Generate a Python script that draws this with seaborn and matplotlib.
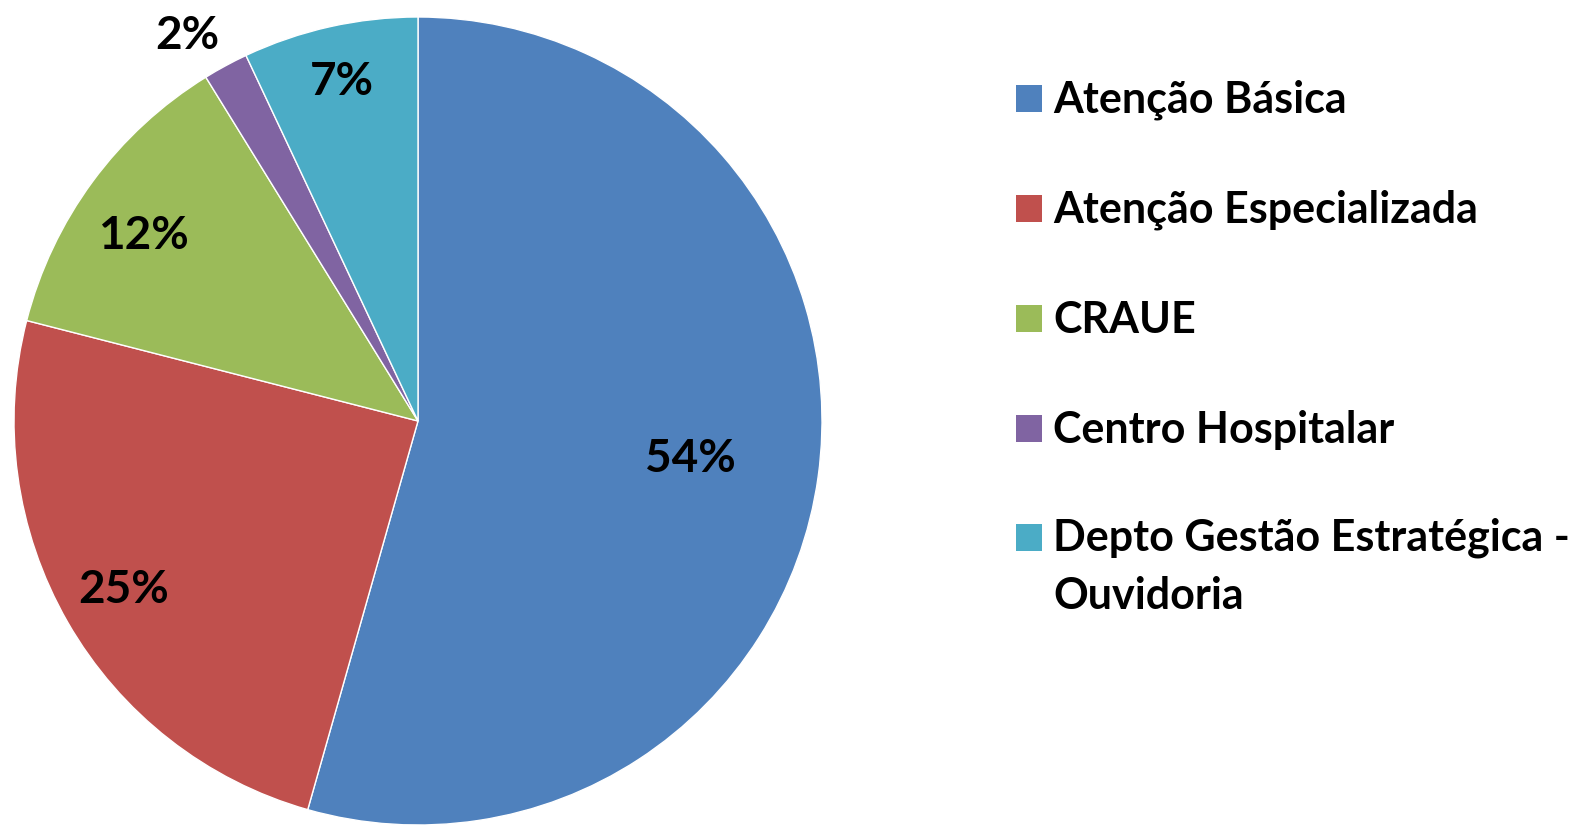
import matplotlib
matplotlib.use("Agg")
import matplotlib.pyplot as plt
import seaborn as sns
import numpy as np
from matplotlib.patches import Rectangle

categories = ["Atenção Básica", "Atenção Especializada", "CRAUE",
              "Centro Hospitalar", "Depto Gestão Estratégica -\nOuvidoria"]
values = [54.4, 24.6, 12.2, 1.8, 7.0]
pct_labels = ["54%", "25%", "12%", "2%", "7%"]
colors = ["#4F81BD", "#C0504D", "#9BBB59", "#8064A2", "#4BACC6"]

sns.set_theme(style="white")
plt.rcParams['font.family'] = ['Lato', 'DejaVu Sans']

W, H = 1589, 825
fig = plt.figure(figsize=(W / 100, H / 100), dpi=100)
cx, cy, r = 418, 421, 404
ax = fig.add_axes([(cx - r) / W, (H - cy - r) / H, 2 * r / W, 2 * r / H])

wedges, _ = ax.pie(values, colors=colors, startangle=90, counterclock=False,
                   radius=1, wedgeprops=dict(edgecolor="white", linewidth=1))
ax.set_aspect("auto")
ax.set_xlim(-1, 1)
ax.set_ylim(-1, 1)
ax.axis("off")
for w in wedges:
    w.set_clip_on(False)

label_dist = [0.68, 0.84, 0.82, 1.11, 0.86]
label_shift = [0, 0, 2.5, 2.5, 0]  # degrees, anti-clockwise nudge
for w, lab, d, s in zip(wedges, pct_labels, label_dist, label_shift):
    ang = np.deg2rad((w.theta1 + w.theta2) / 2 + s)
    ax.text(d * np.cos(ang), d * np.sin(ang), lab, ha="center", va="center",
            fontsize=33, fontweight="bold", color="black", clip_on=False)

# legend
line_px = 57
row_y = [98.5, 208.5, 318.5, 428.5, 537.5]
for cat, col, yy in zip(categories, colors, row_y):
    fig.patches.append(Rectangle((1016 / W, (H - yy - 13.5) / H), 26 / W, 27 / H,
                                 transform=fig.transFigure, facecolor=col,
                                 edgecolor="none"))
    n_extra = cat.count("\n")
    fig.text(1053 / W, (H - yy - 14.5 - n_extra * line_px) / H, cat,
             ha="left", va="baseline",
             fontsize=31, fontweight="bold", color="black", linespacing=1.55,
             multialignment="left")

fig.savefig("out.png", dpi=100, facecolor="white")
